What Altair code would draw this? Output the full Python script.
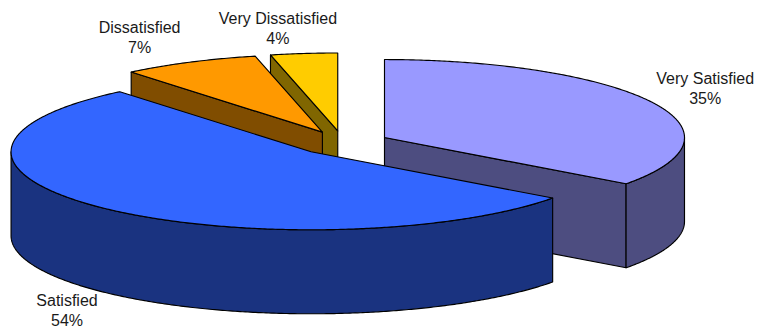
import math
import altair as alt
import pandas as pd

# ---- data
categories = ["Very Satisfied", "Satisfied", "Dissatisfied", "Very Dissatisfied"]
shares = [35.1, 53.9, 7.4, 3.6]

# ---- style
top_colors = ["#9999FF", "#3366FF", "#FF9900", "#FFCC00"]
side_colors = ["#4D4D80", "#1A3380", "#804D00", "#806600"]
paint_order = [3, 2, 0, 1]
FONT = "Liberation Sans"
FONT_SIZE = 16

# ---- layout of the projected pie (pixels of the plot area)
WIDTH, HEIGHT = 746, 323
CX, CY = 335.0, 135.0
RX, RY, DEPTH = 300.0, 78.0, 84.0
EXPLODE = 0.155
label_shift = [(53, -23), (-38, 93), (-50, -34), (-26, -34)]


def rim(t, cx, cy, drop=0.0):
    r = math.radians(t)
    return [cx + RX * math.sin(r), cy - RY * math.cos(r) + drop]


def arc(a, b, cx, cy, drop=0.0):
    n = max(2, int(abs(b - a)) * 2)
    return [rim(a + (b - a) * i / n, cx, cy, drop) for i in range(n + 1)]


def feature(points, color):
    return {
        "type": "Feature",
        "properties": {"color": color},
        "geometry": {"type": "Polygon", "coordinates": [points + [points[0]]]},
    }


faces = []
labels = []
start = 0.0
spans = {}
for i, share in enumerate(shares):
    spans[i] = (start, start + share * 3.6)
    start += share * 3.6

for i in paint_order:
    a, b = spans[i]
    mid = math.radians((a + b) / 2)
    cx = CX + EXPLODE * RX * math.sin(mid)
    cy = CY - EXPLODE * RY * math.cos(mid)
    # cut faces turned towards the viewer
    for t, visible in ((a, math.sin(math.radians(a)) < -1e-6), (b, math.sin(math.radians(b)) > 1e-6)):
        if visible:
            p = rim(t, cx, cy)
            q = rim(t, cx, cy, DEPTH)
            faces.append(feature([[cx, cy], p, q, [cx, cy + DEPTH]], side_colors[i]))
    # outer wall, front half only
    lo, hi = max(a, 90.0), min(b, 270.0)
    if lo < hi:
        pts = arc(lo, hi, cx, cy) + arc(hi, lo, cx, cy, DEPTH)
        faces.append(feature(pts, side_colors[i]))
    # top
    pts = [[cx, cy]] + arc(a, b, cx, cy)
    faces.append(feature(pts, top_colors[i]))
    # label, placed from the rim point on the slice's bisector
    rp = rim((a + b) / 2, cx, cy)
    labels.append({
        "lon": rp[0] + label_shift[i][0],
        "lat": rp[1] + label_shift[i][1],
        "text": f"{categories[i]}\n{round(shares[i])}%",
    })

layers = [
    alt.Chart(alt.Data(values=[f]))
    .mark_geoshape(
        fill=f["properties"]["color"],
        stroke="black",
        strokeWidth=1.15,
        strokeJoin="round",
    )
    .project(type="identity", scale=1, translate=[0, 0])
    for f in faces
]

text = (
    alt.Chart(pd.DataFrame(labels))
    .mark_text(font=FONT, fontSize=FONT_SIZE, color="#1a1a1a", lineBreak="\n", lineHeight=20, align="center", baseline="middle")
    .encode(longitude="lon:Q", latitude="lat:Q", text="text:N")
    .project(type="identity", scale=1, translate=[0, 0])
)

chart = (
    alt.layer(*layers, text)
    .properties(width=WIDTH, height=HEIGHT, padding=0, autosize=alt.AutoSizeParams(type="none"))
    .configure_view(stroke=None)
)
chart.save("out.html", embed_options={"renderer": "svg", "actions": False})
